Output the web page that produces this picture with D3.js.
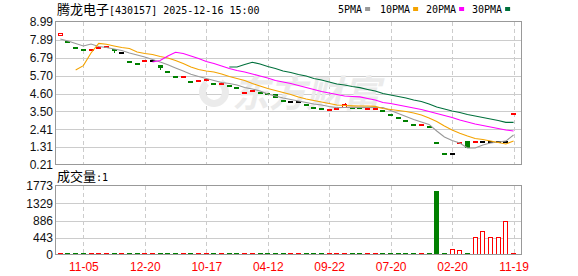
<!DOCTYPE html>
<html>
<head>
<meta charset="utf-8">
<script src="https://cdn.jsdelivr.net/npm/d3@7"></script>
<style>
  body { margin: 0; background: #fff; }
  svg { display: block; }
</style>
</head>
<body>
<div id="chart"></div>
<script>
// ---- data ----
const stockName = '腾龙电子';
const stockCode = '[430157] 2025-12-16 15:00';

const opens  = [8.17,7.81,7.45,7.32,7.30,7.43,7.49,7.35,7.13,6.59, 6.46,6.63,6.64,6.38,5.97,5.67,5.65,5.36,5.40,5.46,
                5.24,5.22,5.11,5.01,4.66,4.79,4.70,4.66,4.55,4.21, 4.16,4.16,3.97,3.80,3.70,3.62,3.68,3.75,3.76,3.75,
                3.73,3.70,3.59,3.33,3.15,2.99,2.72,2.70,2.61,1.61, 0.94,0.93,1.63,1.68,1.66,1.67,1.67,1.67,1.67,3.37];
const closes = [8.33,7.80,7.44,7.31,7.31,7.44,7.50,7.18,7.13,6.58, 6.45,6.64,6.64,6.17,5.96,5.66,5.66,5.35,5.41,5.47,
                5.23,5.23,5.10,5.00,4.67,4.80,4.69,4.65,4.32,4.20, 4.16,4.16,3.96,3.79,3.69,3.63,3.69,3.94,3.75,3.74,
                3.74,3.71,3.48,3.32,3.14,2.87,2.71,2.71,2.60,1.60, 0.93,0.93,1.64,1.24,1.67,1.67,1.67,1.67,1.67,3.38];
const highs  = [8.33,7.81,7.45,7.32,7.31,7.44,7.50,7.35,7.13,6.59, 6.46,6.64,6.64,6.38,5.97,5.67,5.66,5.36,5.41,5.47,
                5.24,5.23,5.11,5.01,4.67,4.80,4.70,4.66,4.55,4.21, 4.16,4.16,3.97,3.80,3.70,3.63,3.69,4.00,3.76,3.75,
                3.74,3.71,3.59,3.33,3.15,2.99,2.72,2.71,2.61,1.61, 0.94,0.93,1.64,1.68,1.67,1.67,1.67,1.67,1.67,3.38];
const lows   = [8.17,7.80,7.44,7.31,7.30,7.43,7.49,7.06,7.13,6.58, 6.45,6.63,6.64,6.04,5.96,5.66,5.65,5.35,5.40,5.46,
                5.23,5.22,5.10,5.00,4.66,4.79,4.69,4.65,4.32,4.20, 4.16,4.16,3.96,3.79,3.69,3.62,3.68,3.75,3.75,3.74,
                3.73,3.70,3.48,3.32,3.14,2.87,2.71,2.70,2.60,1.60, 0.93,0.93,1.63,1.24,1.66,1.67,1.67,1.67,1.67,3.37];
const volumes = [1,1,1,1,1,1,1,1,1,1, 1,1,1,1,1,1,1,1,1,1,
                 1,1,1,1,1,1,1,1,1,1, 1,1,1,1,1,1,1,60,1,1,
                 1,1,1,1,1,1,1,1,1,1640, 1,165,139,2,473,627,473,473,884,1];

const ma5  = [7.95,7.82,7.67,7.52,7.64,7.49,7.42,7.33,7.24,7.09, 6.96,6.84,6.69,6.53,6.37,6.17,5.98,5.78,5.64,5.52,
              5.40,5.28,5.21,5.12,4.97,4.88,4.75,4.57,4.45,4.32, 4.23,4.14,4.05,3.96,3.89,3.80,3.73,3.74,3.75,3.75,
              3.75,3.74,3.73,3.56,3.37,3.19,3.00,2.85,2.70,2.30, 1.93,1.71,1.56,1.25,1.25,1.44,1.56,1.62,1.68,2.05];
const ma10 = [null,null,6.04,6.31,7.09,7.68,7.62,7.52,7.42,7.36, 7.15,7.06,6.99,6.87,6.78,6.63,6.44,6.23,6.07,5.98,
              5.92,5.80,5.64,5.52,5.40,5.21,5.06,4.91,4.78,4.66, 4.54,4.39,4.26,4.17,4.08,3.99,3.89,3.86,3.84,3.83,
              3.83,3.81,3.68,3.62,3.56,3.49,3.40,3.28,3.10,2.88, 2.60,2.36,2.16,1.99,1.84,1.78,1.68,1.59,1.50,1.68];
const ma20 = [null,null,null,null,null,null,null,null,null,null, null,null,6.53,6.63,6.90,7.13,7.06,6.90,6.75,6.56,
              6.44,6.29,6.13,6.01,5.92,5.80,5.67,5.55,5.40,5.31, 5.21,5.09,4.97,4.85,4.72,4.63,4.54,4.45,4.42,4.39,
              4.29,4.20,4.05,3.99,3.89,3.80,3.71,3.62,3.49,3.37, 3.25,3.13,2.97,2.85,2.73,2.64,2.54,2.45,2.36,2.30];
const ma30 = [null,null,null,null,null,null,null,null,null,null, null,null,null,null,null,null,null,null,null,null,
              null,null,6.23,6.23,6.38,6.52,6.41,6.26,6.13,5.98, 5.89,5.77,5.67,5.52,5.43,5.31,5.18,5.12,5.03,4.96,
              4.85,4.75,4.60,4.51,4.42,4.32,4.20,4.11,3.96,3.77, 3.65,3.53,3.43,3.31,3.22,3.13,3.03,2.94,2.83,2.83];

const maNames  = ['5PMA', '10PMA', '20PMA', '30PMA'];
const maColors = ['#999999', '#f4a300', '#ff00ff', '#00703c'];

const xTickIndex  = [3, 11, 19, 27, 35, 43, 51, 59];
const xTickLabels = ['11-05', '12-20', '10-17', '04-12', '09-22', '07-20', '02-20', '11-19'];
const priceTicks  = ['8.99', '7.89', '6.79', '5.70', '4.60', '3.50', '2.41', '1.31', '0.21'];
const volumeTicks = ['1773', '1329', '886', '443', '0'];

// ---- chart ----
const W = 578, H = 276;
const left = 56, right = 522;
const priceTop = 22, priceBottom = 165;
const volTop = 186, volBottom = 255;
const UP = '#ff0000', DOWN = '#008000', FLAT = '#000000';
const mono = '"DejaVu Sans Mono", monospace';
const cjk = '"Noto Sans CJK SC", sans-serif';
const sans = '"Liberation Sans", Arial, sans-serif';

const svg = d3.select('#chart').append('svg')
    .attr('width', W)
    .attr('height', H);

const x = d3.scaleLinear().domain([-0.56, 60.1]).range([left, right]);
const y = d3.scaleLinear().domain([+priceTicks[8], +priceTicks[0]]).range([priceBottom, priceTop]);
const yv = d3.scaleLinear().domain([0, +volumeTicks[0]]).range([volBottom, volTop]);
const px = v => Math.round(v) + 0.5;

const candles = closes.map((c, i) => ({
    i, open: opens[i], close: c, high: highs[i], low: lows[i], vol: volumes[i]
}));
const candleColor = d => d.close > d.open ? UP : (d.close < d.open ? DOWN : FLAT);
const volColor = d => d.close >= d.open ? UP : DOWN;

// gridlines
function grid(g, scale, ticks, top, bottom) {
    g.selectAll('.hgrid')
        .data(ticks.slice(1, -1))
        .join('line')
        .attr('x1', left).attr('x2', right)
        .attr('y1', d => px(scale(+d))).attr('y2', d => px(scale(+d)))
        .attr('stroke', '#cccccc')
        .attr('shape-rendering', 'crispEdges');
    g.selectAll('.vgrid')
        .data(xTickIndex)
        .join('line')
        .attr('x1', d => px(x(d))).attr('x2', d => px(x(d)))
        .attr('y1', top).attr('y2', bottom)
        .attr('stroke', '#cccccc')
        .attr('stroke-dasharray', '4,3')
        .attr('shape-rendering', 'crispEdges');
}
grid(svg.append('g'), y, priceTicks, priceTop, priceBottom);
grid(svg.append('g'), yv, volumeTicks, volTop, volBottom);

// watermark
const wm = svg.append('g').attr('fill', '#ebebeb');
wm.append('path')
    .attr('transform', 'translate(214,92)')
    .attr('d', d3.arc()({ innerRadius: 8, outerRadius: 15, startAngle: 0.6, endAngle: 5.6 }));
wm.append('text')
    .attr('x', 232).attr('y', 107)
    .style('font-family', cjk)
    .style('font-size', '37px')
    .style('font-weight', 'bold')
    .style('font-style', 'italic')
    .text('东方财富');

// candles
const bodyW = 5;
const cg = svg.append('g').attr('shape-rendering', 'crispEdges');
cg.selectAll('.wick')
    .data(candles.filter(d => d.high > Math.max(d.open, d.close) || d.low < Math.min(d.open, d.close)))
    .join('line')
    .attr('x1', d => px(x(d.i))).attr('x2', d => px(x(d.i)))
    .attr('y1', d => Math.round(y(d.high))).attr('y2', d => Math.round(y(d.low)))
    .attr('stroke', candleColor);
cg.selectAll('.body')
    .data(candles)
    .join('rect')
    .each(function (d) {
        const top = Math.round(y(Math.max(d.open, d.close)));
        const h = Math.round(y(Math.min(d.open, d.close))) - top;
        const c = candleColor(d);
        const bx = Math.round(x(d.i) - bodyW / 2);
        const sel = d3.select(this);
        if (h < 2) {
            sel.attr('x', bx).attr('y', top).attr('width', bodyW).attr('height', 2).attr('fill', c);
        } else if (c === UP) {
            sel.attr('x', bx + 0.5).attr('y', top + 0.5)
               .attr('width', bodyW - 1).attr('height', h)
               .attr('fill', '#fff').attr('stroke', c);
        } else {
            sel.attr('x', bx).attr('y', top).attr('width', bodyW).attr('height', h).attr('fill', c);
        }
    });

// moving averages
[ma5, ma10, ma20, ma30].forEach((ma, k) => {
    const line = d3.line()
        .defined(d => d != null)
        .x((d, i) => x(i))
        .y(d => y(d));
    svg.append('path')
        .datum(ma)
        .attr('d', line)
        .attr('fill', 'none')
        .attr('stroke', maColors[k])
        .attr('stroke-width', 1.1);
});

// volume bars
const vg = svg.append('g').attr('shape-rendering', 'crispEdges');
vg.selectAll('rect')
    .data(candles)
    .join('rect')
    .each(function (d) {
        const top = Math.round(yv(d.vol));
        const h = Math.max(2, volBottom - top);
        const c = volColor(d);
        const bx = Math.round(x(d.i) - bodyW / 2);
        const sel = d3.select(this);
        if (h > 2 && c === UP) {
            sel.attr('x', bx + 0.5).attr('y', volBottom - h + 0.5)
               .attr('width', bodyW - 1).attr('height', h - 1)
               .attr('fill', '#fff').attr('stroke', c);
        } else {
            sel.attr('x', bx).attr('y', volBottom - h)
               .attr('width', bodyW).attr('height', h).attr('fill', c);
        }
    });

// frames
[[priceTop, priceBottom], [volTop, volBottom]].forEach(([t, b]) => {
    svg.append('rect')
        .attr('x', left - 0.5).attr('y', t - 0.5)
        .attr('width', right - left).attr('height', b - t)
        .attr('fill', 'none')
        .attr('stroke', '#999999')
        .attr('shape-rendering', 'crispEdges');
});

// axes
const priceAxis = svg.append('g')
    .attr('transform', `translate(${left},0)`)
    .call(d3.axisLeft(y).tickValues(priceTicks.map(Number)).tickFormat((d, i) => priceTicks[i]).tickSize(0).tickPadding(3));
const volAxis = svg.append('g')
    .attr('transform', `translate(${left},0)`)
    .call(d3.axisLeft(yv).tickValues(volumeTicks.map(Number)).tickFormat((d, i) => volumeTicks[i]).tickSize(0).tickPadding(3));
const dateAxis = svg.append('g')
    .attr('transform', `translate(0,${volBottom})`)
    .call(d3.axisBottom(x).tickValues(xTickIndex).tickFormat((d, i) => xTickLabels[i]).tickSize(0).tickPadding(7));
[priceAxis, volAxis, dateAxis].forEach(g => {
    g.select('.domain').remove();
    g.selectAll('text').style('font-family', sans).style('font-size', '12px').attr('fill', '#111');
});
dateAxis.selectAll('text').attr('fill', '#ff0000');

// title
const title = svg.append('text').attr('x', 57).attr('y', 14).attr('fill', '#000');
title.append('tspan').style('font-family', cjk).style('font-size', '13px').text(stockName);
title.append('tspan').style('font-family', mono).style('font-size', '10px').text(stockCode);

const volTitle = svg.append('text').attr('x', 57).attr('y', 181).attr('fill', '#000');
volTitle.append('tspan').style('font-family', cjk).style('font-size', '13px').text('成交量');
volTitle.append('tspan').style('font-family', mono).style('font-size', '10px').text(':' + volumes[volumes.length - 1]);

// legend
const legendX = [338, 380, 426, 472];
maNames.forEach((name, k) => {
    const t = svg.append('text')
        .attr('x', legendX[k]).attr('y', 13)
        .style('font-family', mono)
        .style('font-size', '10px')
        .attr('fill', '#000')
        .text(name);
    const w = t.node().getComputedTextLength();
    svg.append('rect')
        .attr('x', legendX[k] + w + 3).attr('y', 7)
        .attr('width', 5).attr('height', 4)
        .attr('fill', maColors[k]);
});
</script>
</body>
</html>
